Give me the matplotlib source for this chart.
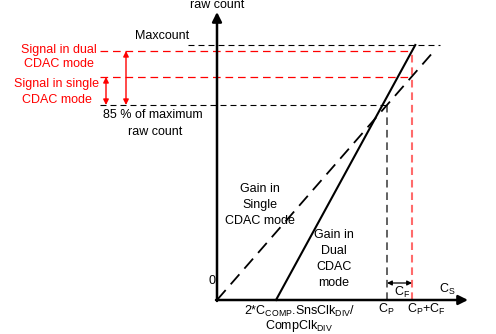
import matplotlib.pyplot as plt

plt.rcParams['font.family'] = ['Liberation Sans', 'DejaVu Sans']
plt.rcParams['mathtext.fontset'] = 'custom'
plt.rcParams['mathtext.rm'] = 'Liberation Sans'
plt.rcParams['mathtext.it'] = 'Liberation Sans'
plt.rcParams['lines.scale_dashes'] = False

# raw count levels
maxcount = 255
signal_dual = 249
signal_single = 223
count_85 = 195

# capacitance positions on the Cs axis
c_offset = 59      # 2*Ccomp.SnsClkDIV/CompClkDIV
c_p = 170
c_f = 25

# gain lines
slope_single = count_85 / c_p
slope_dual = signal_dual / (c_p + c_f - c_offset)
single_top = 250
label_left = -117

fig = plt.figure(figsize=(4.96, 3.34), dpi=100)
ax = fig.add_axes([0, 0, 1, 1])
ax.set_xlim(-217, 279)
ax.set_ylim(-34, 300)
ax.axis('off')

black_dash = (0, (4.3, 2.9))
red_dash = (0, (5.5, 3.5))

# horizontal reference levels
ax.plot([-29, 223], [maxcount, maxcount], color='black', lw=0.8, ls=black_dash)
ax.plot([label_left, c_p + c_f], [signal_dual, signal_dual], color='red', lw=0.9, ls=red_dash)
ax.plot([label_left, c_p + c_f], [signal_single, signal_single], color='red', lw=0.9, ls=red_dash)
ax.plot([label_left, c_p], [count_85, count_85], color='black', lw=0.8, ls=black_dash)

# vertical markers at Cp and Cp+Cf
ax.plot([c_p, c_p], [0, count_85], color='#555555', lw=1.3, ls=red_dash)
ax.plot([c_p + c_f, c_p + c_f], [0, signal_dual], color='#ff6b6b', lw=1.5, ls=red_dash)

# gain in single / dual CDAC mode
ax.plot([0, single_top / slope_single], [0, single_top], color='black', lw=1.3,
        ls=(0, (9.5, 5.5)))
ax.plot([c_offset, c_offset + maxcount / slope_dual], [0, maxcount], color='black', lw=1.5)

# axes with arrows
arrow = dict(arrowstyle='-|>', color='black', lw=1.8, mutation_scale=14,
             shrinkA=0, shrinkB=0)
ax.annotate('', xy=(0, 288), xytext=(0, -1), arrowprops=arrow)
ax.annotate('', xy=(251, 0), xytext=(-1, 0), arrowprops=arrow)

# signal arrows
red_arrow = dict(arrowstyle='<|-|>', color='red', lw=1.0, mutation_scale=8,
                 shrinkA=0, shrinkB=0)
ax.annotate('', xy=(-91, signal_dual), xytext=(-91, count_85), arrowprops=red_arrow)
ax.annotate('', xy=(-111, signal_single), xytext=(-111, count_85), arrowprops=red_arrow)

# Cf width arrow
cf_arrow = dict(arrowstyle='<|-|>', color='black', lw=0.9, mutation_scale=7,
                shrinkA=0, shrinkB=0)
ax.annotate('', xy=(c_p, 17), xytext=(c_p + c_f, 17), arrowprops=cf_arrow)

fs = 9
kw = dict(fontsize=fs, ha='center', va='baseline')
ax.text(0, 292, 'raw count', **kw)
ax.text(-55, 261, 'Maxcount', **kw)
ax.text(-158, 247, 'Signal in dual', color='red', **kw)
ax.text(-158, 233, 'CDAC mode', color='red', **kw)
ax.text(-160, 213, 'Signal in single', color='red', **kw)
ax.text(-160, 197, 'CDAC mode', color='red', **kw)
ax.text(-64, 182, '85 % of maximum', **kw)
ax.text(-62, 165, 'raw count', **kw)

ax.text(43, 108, 'Gain in', **kw)
ax.text(43, 92, 'Single', **kw)
ax.text(43, 76, 'CDAC mode', **kw)
ax.text(117, 62, 'Gain in', **kw)
ax.text(117, 46, 'Dual', **kw)
ax.text(117, 30, 'CDAC', **kw)
ax.text(117, 14, 'mode', **kw)

ax.text(-5, 16, '0', **kw)
ax.text(83, -15, r'2*C$_{\mathrm{COMP}}$.SnsClk$_{\mathrm{DIV}}$/', **kw)
ax.text(82, -29, r'CompClk$_{\mathrm{DIV}}$', **kw)

ax.text(c_p - 1, -13, r'C$_{\mathrm{P}}$', **kw)
ax.text(c_p + c_f + 14, -13, r'C$_{\mathrm{P}}$+C$_{\mathrm{F}}$', **kw)
ax.text(c_p + 15, 4, r'C$_{\mathrm{F}}$', **kw)
ax.text(230, 7, r'C$_{\mathrm{S}}$', **kw)

fig.savefig('out.png', dpi=100)
